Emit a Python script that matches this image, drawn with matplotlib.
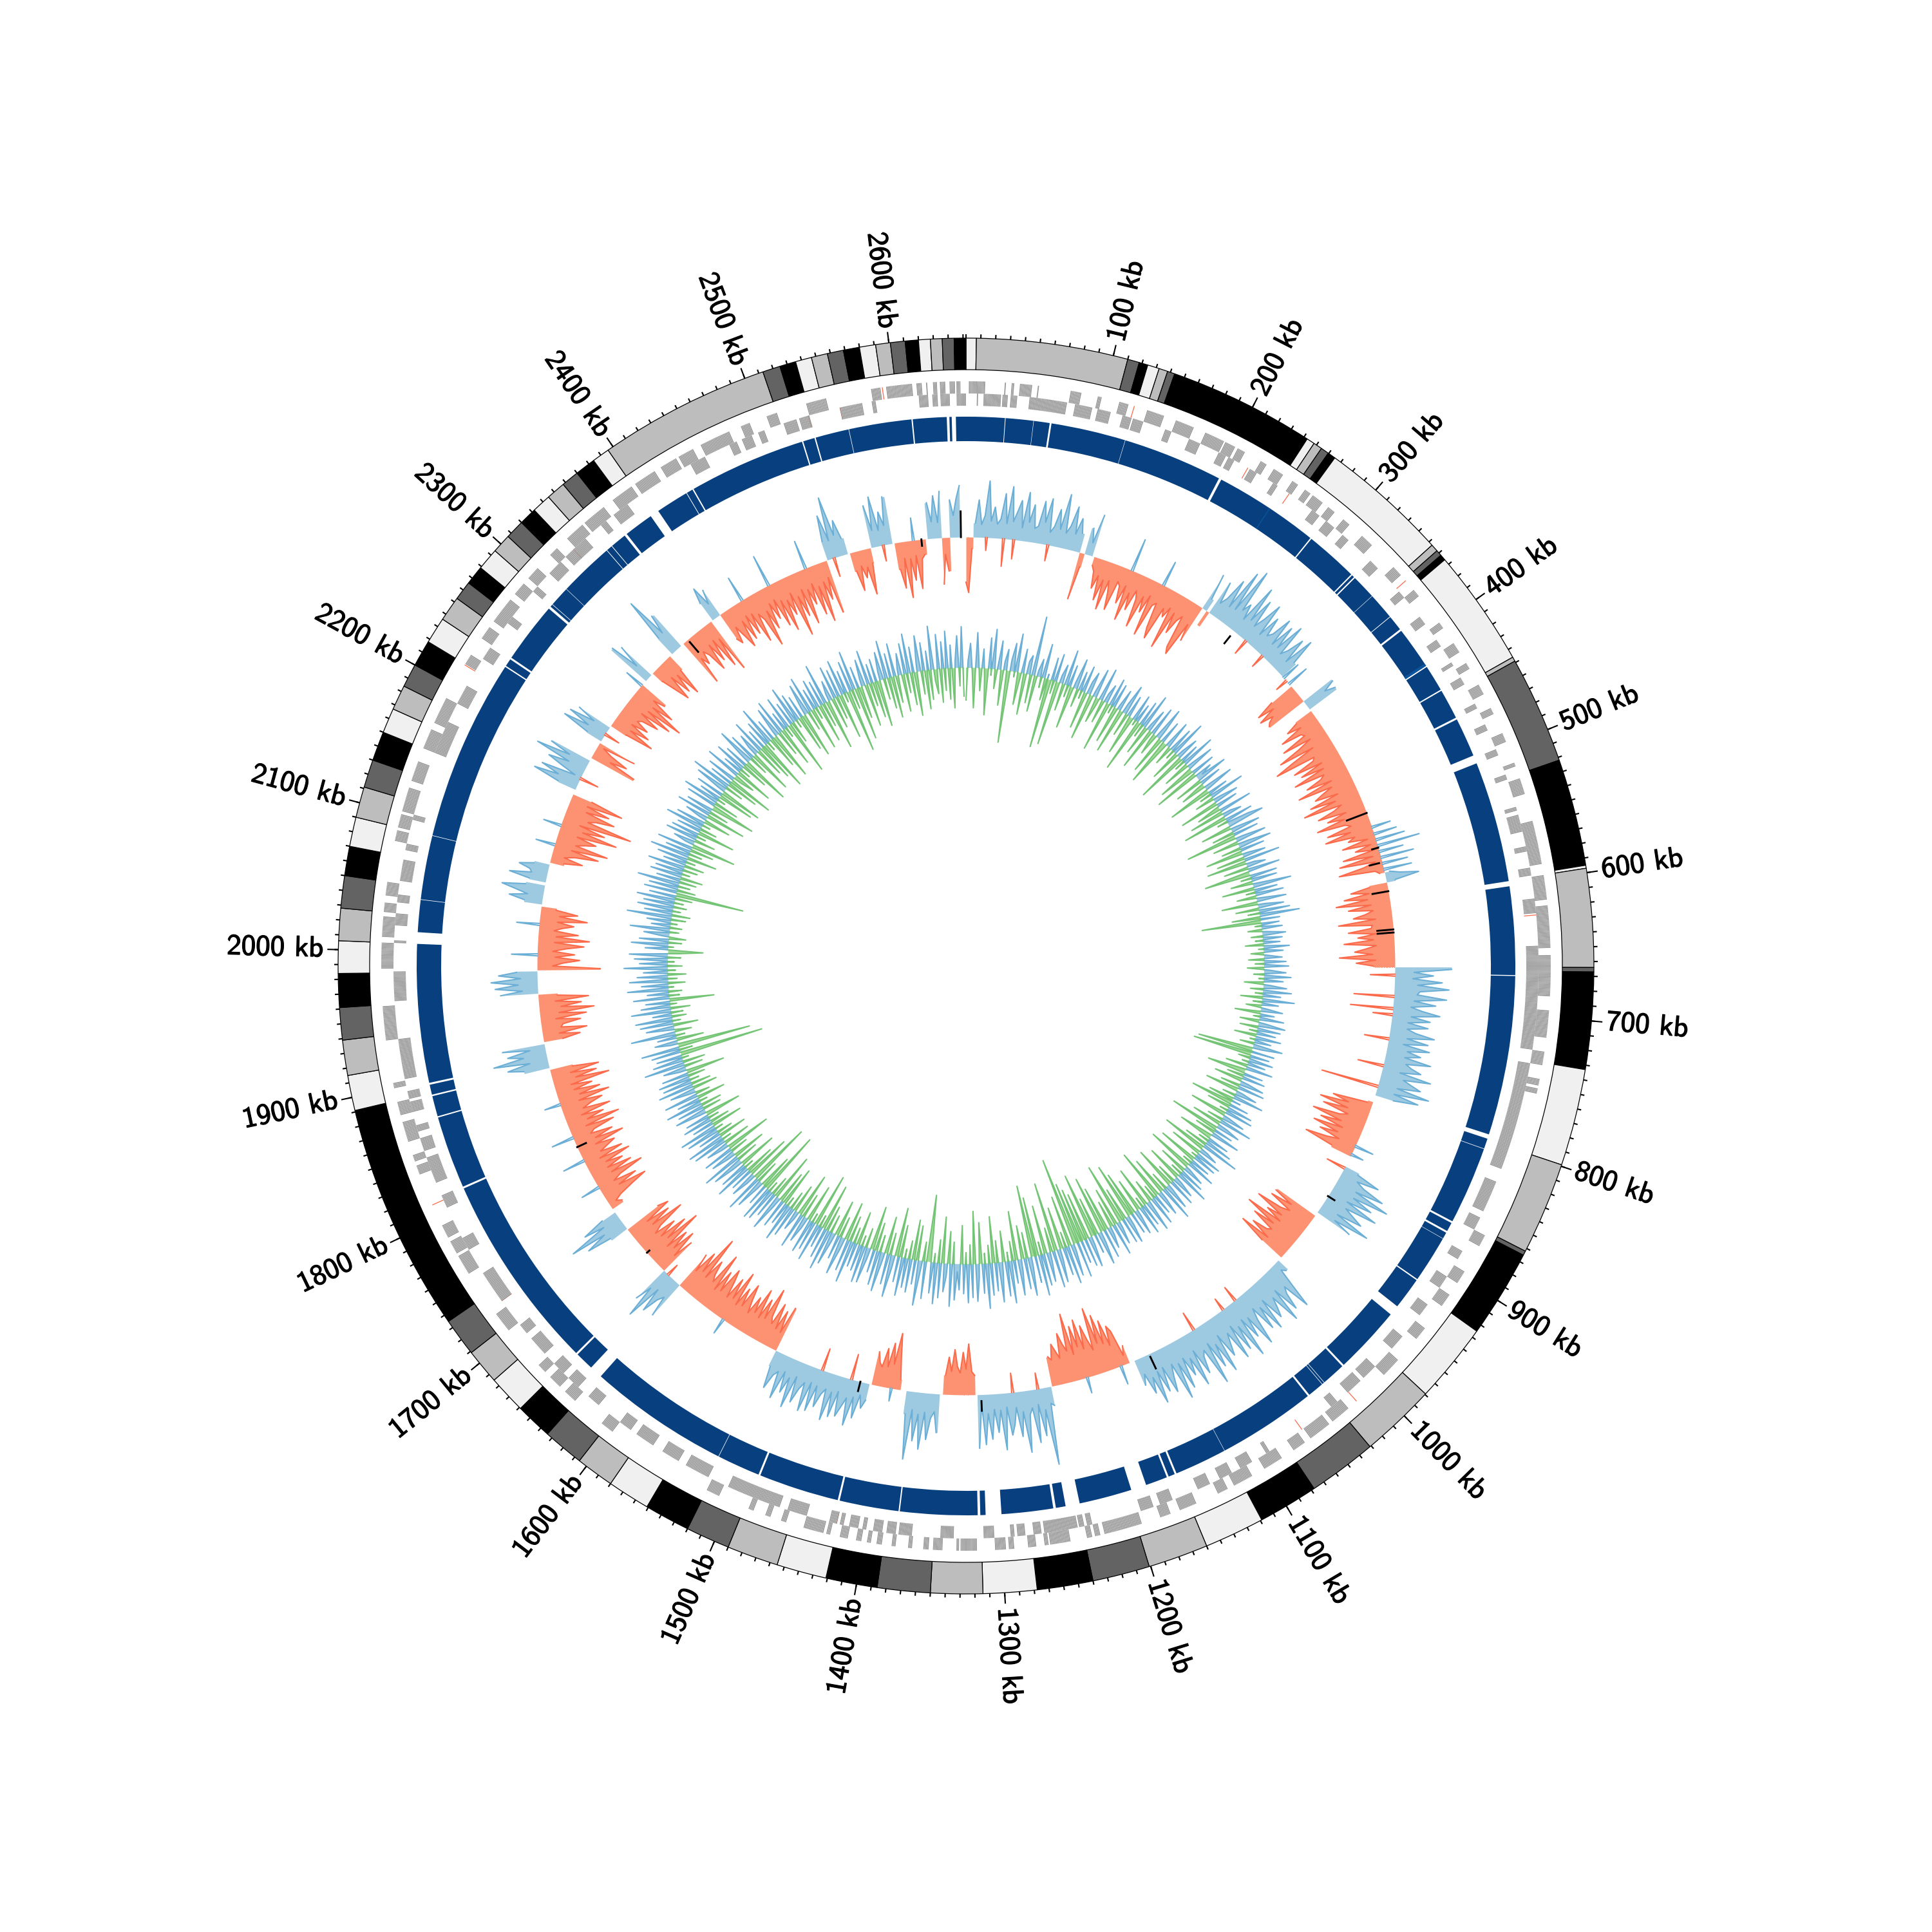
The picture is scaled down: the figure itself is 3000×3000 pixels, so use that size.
import numpy as np
import matplotlib
matplotlib.use("Agg")
import matplotlib.pyplot as plt
import matplotlib.patheffects as pe

# ============================================
# DATA (all positions in kb, heights in px from the baseline of the track)
# ============================================
genome_len = 2652
bin_kb = 3

# outer band: contig boundaries, the colours cycle clockwise
contig_edges = [0, 7, 110, 118, 124, 132, 138, 143, 242.5, 248, 254, 259.6, 265, 353, 358, 362, 366,
                446, 449, 522, 595, 597, 664, 667, 733, 799, 862, 865, 925, 979.5, 1031, 1078, 1119,
                1160, 1201, 1240, 1278, 1314.6, 1350, 1386, 1421, 1455, 1490, 1520, 1551, 1580, 1606,
                1634, 1659, 1685, 1709, 1735, 1891, 1915, 1939, 1961, 1984, 2006, 2028, 2050, 2070,
                2090, 2111, 2130, 2150, 2167, 2184, 2200, 2218, 2236, 2253, 2266, 2279, 2294, 2307,
                2320, 2332, 2345, 2358, 2370, 2384, 2396, 2513, 2525, 2536, 2547, 2558, 2569, 2580,
                2591, 2601, 2611, 2620, 2628, 2636, 2644, 2652]
contig_colors = ['#f0f0f0', '#bdbdbd', '#636363', '#000000']

major_ticks = list(range(100, 2601, 100))
minor_ticks = list(range(0, 2651, 10))

# gene blocks on each strand
gene_fwd = [(2,14),(28,29),(33,35),(39,48),(52,53),(76,84),(96,99),(112,119),(133,146),(155,169),(178,193),
            (194,202),(204,210),(223,228),(234,242),(250,255),(261,266),(268,277),(282,288),(296,302),(314,324),
            (346,354),(368,374),(398,403),(416,424),(433,438),(451,459),(470,475),(490,497),(513,516),(525,537),
            (557,589),(597,615),(619,650),(655,685),(695,715),(725,735),(745,750),(752,756),(865,874),(895,905),
            (915,925),(945,955),(975,990),(1025,1040),(1043,1060),(1065,1075),(1085,1100),(1110,1125),(1130,1138),
            (1155,1168),(1175,1183),(1197,1225),(1228,1232),(1234,1238),(1250,1265),(1266,1269),(1275,1281),
            (1291,1295),(1297,1305),(1318,1330),(1331,1333),(1343,1350),(1353,1357),(1365,1368),(1377,1380),
            (1387,1391),(1395,1398),(1402,1406),(1412,1418),(1425,1428),(1430,1445),(1458,1462),(1470,1474),
            (1483,1487),(1510,1520),(1600,1610),(1635,1645),(1650,1660),(1665,1672),(1705,1720),(1755,1770),
            (1772,1782),(1785,1795),(1835,1842),(1845,1850),(1860,1875),(1880,1890),(1900,1904),(1935,1960),
            (1987,2006),(2010,2025),(2028,2035),(2040,2050),(2080,2088),(2090,2100),(2102,2120),(2125,2140),
            (2150,2165),(2170,2190),(2218,2226),(2240,2250),(2255,2275),(2280,2290),(2295,2305),(2318,2325),
            (2335,2350),(2352,2370),(2378,2395),(2398,2415),(2420,2433),(2435,2447),(2453,2470),(2470,2476),
            (2485,2492),(2505,2513),(2535,2550),(2583,2590),(2594,2613),(2616,2620),(2623,2624),(2628,2631),
            (2633,2637),(2640,2644),(2645,2648)]
gene_rev = [(8,9),(13,26),(27,31),(33,38),(47,75),(81,94),(98,108),(117,124),(125,133),(150,155),(169,178),
            (193,199),(201,206),(219,225),(239,243),(274,281),(287,295),(303,309),(331,339),(362,368),(386,393),
            (407,413),(427,430),(440,446),(462,466),(479,484),(499,504),(519,523),(544,547),(550,563),(574,578),
            (590,596),(613,624),(648,665),(665,695),(695,725),(735,800),(800,816),(826,850),(855,865),(883,890),
            (905,915),(930,940),(960,972),(990,1002),(1005,1018),(1028,1034),(1090,1093),(1105,1115),(1122,1132),
            (1140,1150),(1170,1180),(1185,1195),(1232,1236),(1238,1242),(1243,1268),(1270,1276),(1282,1288),
            (1290,1293),(1305,1313),(1335,1345),(1366,1376),(1378,1385),(1388,1395),(1400,1403),(1406,1413),
            (1417,1420),(1422,1428),(1445,1460),(1466,1507),(1523,1542),(1548,1562),(1570,1585),(1590,1600),
            (1620,1630),(1640,1650),(1655,1665),(1675,1690),(1695,1703),(1725,1735),(1735,1750),(1770,1780),
            (1805,1815),(1825,1835),(1835,1845),(1850,1860),(1865,1870),(1880,1888),(1890,1896),(1905,1935),
            (1963,1985),(2006,2008),(2019,2028),(2036,2042),(2052,2068),(2075,2080),(2098,2102),(2150,2175),
            (2190,2205),(2228,2238),(2260,2266),(2290,2295),(2308,2320),(2325,2345),(2360,2365),(2372,2385),
            (2440,2452),(2472,2478),(2482,2490),(2495,2500),(2515,2525),(2527,2535),(2558,2575),(2582,2585),
            (2617,2624),(2627,2631),(2633,2640),(2645,2652)]
red_fwd = [123, 359, 1017, 1811, 2217, 2591]
red_rev = [217, 253, 625, 1061, 1422, 1725, 2333, 2534, 2558]

# white cuts in the dark blue ring
ring_gaps = [(30,30.5),(52,52.3),(64.6,66),(124,124.3),(202,204),(286,287),(328,329),(331,332),(351,351.3),
             (372,372.5),(384.5,386),(419,420),(440.5,441.5),(465,466.5),(497,503.5),(597.5,601.5),(670,670.7),
             (794.5,798),(806,806.4),(867,868.5),(875.5,877),(882,882.3),(919,920),(945,953),(1006,1007.5),
             (1026,1026.4),(1028,1028.4),(1041,1042.5),(1119,1119.3),(1160,1161.5),(1166.5,1168),(1185,1197),
             (1238,1249),(1256.6,1258.6),(1298.7,1310.9),(1315,1317),(1377,1378),(1424,1425.5),(1488,1489.5),
             (1523,1523.4),(1633,1643),(1657.5,1659),(1813,1814.5),(1871,1872),(1888,1889.2),(1897,1898.5),
             (2006,2015),(2040,2040.4),(2090,2090.4),(2232,2233),(2239,2240.5),(2288,2290),(2292,2292.4),
             (2308,2308.3),(2351,2351.5),(2356,2356.5),(2369,2371),(2394,2401),(2426.5,2427),(2432,2433),
             (2524,2525),(2534,2535),(2561,2561.4),(2610,2611),(2637.2,2639.2),(2641,2644.2)]
ring_light = [(247,247.7),(417,419)]

# sign of the skew track by stretch: 1 outward (blue), -1 inward (red)
skew_regions = [(0,7,-1),(7,113,1),(113,118,-1),(118,126,1),(128,246,-1),(246,251,1),(251,254,-1),(254,350,1),
                (363,382,-1),(382,392,1),(394,570,-1),(570,580,1),(580,664,-1),(664,792,1),(799,857,-1),(868,921,1),
                (925,978,-1),(982,1156,1),(1161,1241,-1),(1242,1315,1),(1317,1349,-1),(1352,1385,1),(1391,1420,-1),
                (1422,1520,1),(1520,1635,-1),(1635,1656,1),(1656,1710,-1),(1711,1731,1),(1735,1886,-1),(1888,1912,1),
                (1914,1961,-1),(1962,1984,1),(1985,2048,-1),(2050,2069,1),(2072,2090,1),(2092,2163,-1),(2168,2200,1),
                (2203,2220,-1),(2222,2238,1),(2240,2291,-1),(2296,2304,1),(2306,2330,-1),(2333,2345,1),(2348,2383,-1),
                (2385,2394,1),(2394,2512,-1),(2513,2534,1),(2536,2557,-1),(2558,2579,1),(2581,2612,-1),(2614,2628,1),
                (2628,2636,-1),(2636,2646,1)]

# skew height per 3 kb bin, ten bins (30 kb) to the row
skew_amp = [
    70,86,18,22,58,20,34,88,26,48,  22,30,70,24,82,28,44,62,20,76,  30,58,22,26,66,34,72,20,30,58,
    28,84,24,36,68,26,52,30,74,22,  42,20,66,14,22,48,26,64,30,76,  28,46,72,24,30,56,26,80,34,60,
    26,38,82,30,54,24,88,36,30,70,  86,32,44,26,92,30,62,38,28,80,  90,34,60,20,26,56,22,34,70,26,
    92,28,102,34,48,24,86,30,70,26,  44,74,22,58,28,36,68,24,62,26,  72,22,34,60,20,68,28,50,22,30,
    14,40,70,44,73,52,62,66,55,36,  52,22,30,50,28,66,34,30,72,26,  50,86,30,70,100,36,40,76,30,68,
    32,84,36,44,70,30,88,34,52,66,  30,78,38,92,32,46,74,30,62,36,  82,38,30,70,34,76,30,42,12,54,
    10,36,8,58,12,66,10,30,70,14,  8,24,52,14,28,58,30,70,34,84,  30,66,28,40,60,26,84,32,34,70,
    28,56,32,78,28,44,62,34,86,30,  60,34,88,30,60,28,74,36,85,40,  36,82,32,66,28,46,74,30,60,26,
    58,26,40,70,28,62,24,66,32,54,  30,72,34,44,60,28,78,36,50,66,  30,82,28,68,30,76,14,8,62,36,
    80,34,72,30,42,84,36,68,30,76,  34,62,28,48,80,34,70,12,6,8,  24,62,28,42,78,34,92,36,70,30,
    84,34,50,68,28,86,30,60,26,72,  40,74,36,50,90,42,66,38,96,44,  78,40,46,70,36,84,40,72,20,14,
    44,80,36,46,72,30,84,36,52,66,  28,78,34,70,28,46,86,34,66,30,  92,36,74,28,82,34,50,68,28,88,
    38,74,30,96,36,44,70,28,84,36,  62,30,78,34,90,30,48,72,28,66,  30,80,36,60,26,42,74,28,14,56,
    66,36,78,42,90,46,104,38,56,80,  44,92,50,84,40,106,48,60,78,40,  52,64,40,46,30,26,121,34,74,24,
    83,28,38,96,32,70,24,50,66,22,  88,26,60,24,70,30,78,14,83,30,  36,79,40,66,34,44,70,36,58,30,
    20,60,28,38,72,30,88,34,76,28,  106,36,62,12,16,50,87,38,70,32,  60,30,36,52,26,40,20,58,26,72,
    30,46,62,24,66,28,74,26,36,58,  26,68,24,72,28,40,64,24,76,30,  56,24,70,28,36,60,26,72,28,62,
    30,70,34,44,88,36,66,32,78,36,  60,30,50,74,34,62,30,84,36,68,  32,58,76,34,66,30,90,38,48,70,
    36,105,40,72,34,62,30,40,66,28,  85,34,60,28,72,36,66,30,95,40,  78,34,64,30,44,88,36,70,32,76,
    60,30,68,34,90,28,60,24,72,20,  12,24,48,74,30,62,26,40,80,30,  66,28,56,30,72,24,64,30,44,58,
    28,76,32,62,28,36,70,26,82,32,  60,26,74,32,46,66,30,80,34,68,  28,58,26,88,36,70,30,76,36,92,
    40,64,28,84,36,60,24,66,30,58,  26,70,30,34,62,24,72,30,85,34,  66,26,78,30,58,24,66,30,72,26,
    60,32,98,24,40,66,28,58,24,44,  72,26,80,28,62,24,36,54,28,74,  30,58,24,66,28,52,24,44,66,30,
    70,26,58,24,28,46,24,66,22,50,  20,36,72,28,84,32,46,62,30,92,  36,70,28,110,38,50,78,30,66,28,
    84,32,58,30,72,34,64,10,36,60,  28,85,32,66,26,74,30,56,26,10,  62,26,70,30,66,26,56,28,72,30,
    60,26,52,30,36,62,28,78,34,92,  36,70,30,48,86,32,72,26,62,20,  44,66,26,60,30,70,28,86,32,100,
    34,64,26,78,36,50,30,40,70,28,  60,26,76,30,88,32,56,24,46,56,  30,50,70,28,62,24,58,26,76,32,
    44,90,34,66,26,54,24,70,30,82,  34,60,26,98,36,70,28,86,32,58,  26,78,34,92,30,60,26,84,30,70,
    28,96,34,56,26,80,30,62,24,44,  28,72,24,66,26,78,24,52,30,74,  24,42,72,26,88,28,62,24,76,30,
    24,42,56,26,66,24,72,26,52,58,  34,60,80,30]

# single spikes of the other colour inside a stretch, and the short stretch with no track
skew_flips = [(20,-20),(37,-43),(47,-30),(81,-25),(168,52),(202,40),(300,-25),(322,-22),(352,30),(356,-20),(360,35),
              (524,30),(531,36),(537,46),(543,67),(549,38),(555,52),(561,40),(567,44),(672,-38),(693,-62),(705,-66),
              (711,-30),(735,-38),(762,-40),(783,-90),(846,30),(855,20),(870,-30),(1040,-25),(1055,-20),(1090,-30),
              (1170,30),(1205,25),(1255,-25),(1280,-30),(1400,20),(1440,-40),(1470,-35),(1580,25),(1650,-20),
              (1760,30),(1790,35),(1815,35),(1850,25),(2000,40),(2030,35),(2110,30),(2130,28),(2180,-30),(2230,-25),
              (2290,30),(2420,40),(2450,50),(2490,45),(2520,-30),(2570,-25),(2600,35)]
skew_black = [(285,-24,-10),(509,-33,0),(545,-10,0),(560,-20,-5),(589,-25,0),(627,-25,0),(630,-25,0),(902,0,12),
              (1140,5,25),(1311,10,25),(1431,0,15),(1680,-5,0),(1805,-15,0),(2354,-25,-5),(2608,-10,0),(2647,0,40)]

# inner track per 3 kb bin, ten bins (30 kb) to the row
gc_vals = [
    -50,12,38,-6,-62,55,8,-35,30,-14,  -72,48,-10,62,-30,6,45,-55,14,33,  -112,18,44,-8,60,-50,-12,38,-64,20,
    30,-44,93,-56,10,28,-16,54,-34,8,  -108,36,-20,44,-100,12,30,-42,56,-18,  34,-66,10,48,-28,30,-12,42,-58,20,
    36,-72,8,46,-40,-10,52,-36,14,30,  -78,44,-12,38,-58,6,34,-70,16,48,  -36,34,-14,-62,42,-8,30,-84,40,-20,
    56,-46,10,36,-66,46,-12,-34,52,14,  -60,36,-18,-74,44,8,-30,40,-14,58,  -48,12,36,-80,30,-16,54,-42,8,44,
    -58,-14,38,-72,28,10,50,-44,34,-12,  -40,48,8,-68,32,-18,56,-30,12,40,  -62,34,-10,-38,52,-54,14,30,-70,44,
    -16,36,58,-48,10,46,-34,40,-80,12,  48,-40,18,52,-30,38,-58,8,36,-44,  56,-62,14,30,-38,50,-20,-72,42,-16,
    40,-34,10,60,-50,36,-14,44,-30,8,  46,-56,12,40,-36,48,-18,62,-44,30,  -92,28,-10,32,-22,8,36,-18,30,-12,
    26,-28,40,-8,30,-20,6,28,-24,34,  -14,38,-26,10,34,-16,42,-8,30,-30,  10,36,-20,44,-12,28,-34,50,-14,26,
    -24,8,34,-40,22,-10,38,-30,12,42,  -28,36,-12,30,-34,40,-8,26,-22,46,  14,-86,36,-92,30,-18,38,-10,28,-34,
    42,-16,-60,30,-26,36,-44,12,38,-30,  42,-52,10,34,-20,48,-40,14,-66,30,  -36,40,-12,44,-58,10,36,-24,52,-46,
    16,38,-78,30,-32,46,-10,-54,34,-16,  44,-36,60,-70,12,30,-50,42,-8,38,  -62,32,-14,46,-72,8,34,-44,40,-18,
    54,-56,12,36,-30,44,-66,10,42,-28,  56,-60,14,40,-80,32,-22,46,-36,10,  50,-64,36,-16,46,-52,12,40,-70,34,
    -88,16,44,-52,40,-96,10,36,-60,50,  -42,14,34,-70,46,-90,18,52,-60,30,  -102,14,48,-74,44,-84,36,-96,56,-138,
    12,50,-80,60,-24,44,-66,18,52,-108,  58,-38,14,46,-76,50,-20,64,-92,42,  -112,16,60,-40,48,-52,20,56,-76,36,
    -30,66,-14,54,-48,18,62,-34,44,-72,  50,-28,70,-16,46,-64,22,58,-82,52,  -30,60,-18,46,-60,40,12,56,-34,66,
    -50,20,44,-72,54,-36,64,-14,48,-44,  -104,58,-30,18,70,-54,38,-62,52,-28,  46,-14,60,-50,40,-76,20,66,-34,48,
    -58,14,62,-26,54,-44,36,-68,18,56,  -30,58,-16,42,-52,38,-24,66,-40,50,  -60,20,60,-32,38,-56,14,52,-28,64,
    -40,48,-72,34,-18,60,-83,46,-14,54,  -58,18,42,-38,56,-68,12,32,-44,48,  -28,60,-14,36,-62,46,-50,18,58,-74,
    40,-30,52,-16,56,-100,34,-54,12,48,  -36,60,-100,16,42,-70,36,-46,58,-14,  44,-60,18,50,-34,62,-52,14,40,-28,
    48,-72,12,36,-42,54,-14,60,-44,36,  -24,52,-12,60,-48,34,-30,46,-16,38,  -56,10,50,-28,42,-32,58,-12,36,-44,
    54,-22,12,40,-38,56,-30,46,-14,50,  -26,42,-60,12,36,-28,64,-34,48,-10,  40,-131,46,-20,60,-114,12,36,-42,30,
    -14,70,-26,8,44,-38,52,-12,58,-22,  30,-18,62,-30,46,-10,38,-69,56,-16,  34,-20,64,-8,42,-26,60,-14,48,-28,
    38,-12,68,-22,44,-10,52,-20,60,-16,  -54,36,-8,58,-20,46,-26,12,40,-14,  62,-18,30,-10,38,-22,70,-28,44,-12,
    56,-20,48,-14,60,-26,42,-106,52,-28,  46,-18,66,-26,38,-34,50,-12,44,-22,  58,-30,36,-14,48,-46,62,-20,40,-36,
    56,-69,14,34,-32,50,-14,44,-58,38,  -26,60,-12,46,-42,12,36,-62,54,-30,  42,-16,-70,48,-38,58,-12,34,-56,44,
    -66,12,52,-28,64,-50,36,-72,46,-14,  -34,56,-60,30,-16,50,-42,38,-76,12,  60,-30,44,-68,16,36,-46,54,-58,32,
    -80,42,-14,62,-50,34,-74,10,48,-40,  56,-62,30,-16,52,-84,38,-34,60,-12,  44,-56,36,-70,14,50,-30,58,-66,34,
    -18,46,-60,40,-38,64,-78,12,32,-48,  52,-36,44,-70,56,-14,36,-97,48,-30,  62,-82,34,-50,12,42,-66,54,-36,30,
    -56,36,-72,14,44,-32,60,-48,38,-64,  52,-42,12,34,-58,48,-30,62,-50,40,  -68,14,56,-36,44,-60,30,-46,68,-18,
    -38,54,-52,42,-34,58,-48,36,-62,12,  50,-28,64,-44]

# ============================================
# STYLE AND RADII (1 radial unit = 1 pixel of the output)
# ============================================
R_BAND = (926, 975)
R_GENE_FWD = (889, 908)
R_GENE_REV = (870, 889)
R_RING = (815, 853)
R_SKEW = 666
R_GC = 463

BLUE_LINE, BLUE_FILL = '#6baed6', '#9ecae1'
RED_LINE, RED_FILL = '#fb6a4a', '#fc9272'
GREEN_LINE, GREEN_FILL = '#74c476', '#a1d99b'
GENE_GRAY = '#989898'
RING_BLUE = '#08407f'
LW = 0.5


def ang(kb):
    # kb to radians clockwise from the top
    return np.radians(np.asarray(kb, dtype=float) * 360.0 / genome_len)


def arc(ax, start, end, radii, color, **kw):
    ax.bar(ang((start + end) / 2), radii[1] - radii[0], width=ang(end - start), bottom=radii[0],
           color=color, align='center', **kw)


def gene_strip(ax, runs, radii):
    # one thin radial stroke per kb, this gives the striped look of packed genes
    kbs = np.concatenate([np.arange(start, end, 1.0) + 0.5 for start, end in runs])
    ax.vlines(ang(kbs), radii[0], radii[1], color=GENE_GRAY, lw=0.42)


fig = plt.figure(figsize=(10, 10), dpi=300)
ax = fig.add_axes([0, 0, 1, 1], projection='polar')
ax.set_theta_zero_location('N')
ax.set_theta_direction(-1)
ax.set_rlim(0, 1500)
ax.axis('off')

# ============================================
# OUTER BAND, TICKS, LABELS
# ============================================
for i in range(len(contig_edges) - 1):
    arc(ax, contig_edges[i], contig_edges[i + 1], R_BAND, contig_colors[i % 4],
        edgecolor='black', linewidth=0.3)

ax.vlines(ang(minor_ticks), R_BAND[1], R_BAND[1] + 6, color='black', lw=LW)
ax.vlines(ang(major_ticks), R_BAND[1], R_BAND[1] + 17, color='black', lw=LW)
for kb in major_ticks:
    deg = kb * 360.0 / genome_len
    if deg < 180:
        rot, ha = 90 - deg, 'left'
    else:
        rot, ha = 270 - deg, 'right'
    ax.text(ang(kb), R_BAND[1] + 23, f'{kb} kb', rotation=rot, rotation_mode='anchor',
            ha=ha, va='center', fontsize=10.8, family='cmss10',
            path_effects=[pe.withStroke(linewidth=0.3, foreground='black')])

# ============================================
# GENES
# ============================================
gene_strip(ax, gene_fwd, R_GENE_FWD)
gene_strip(ax, gene_rev, R_GENE_REV)
for kb in red_fwd:
    arc(ax, kb, kb + 0.6, R_GENE_FWD, RED_LINE, linewidth=0)
for kb in red_rev:
    arc(ax, kb, kb + 0.6, R_GENE_REV, RED_LINE, linewidth=0)

# ============================================
# BLUE RING
# ============================================
seg_start = 0
for gap_start, gap_end in ring_gaps:
    arc(ax, seg_start, gap_start, R_RING, RING_BLUE, linewidth=0)
    seg_start = gap_end
arc(ax, seg_start, genome_len, R_RING, RING_BLUE, linewidth=0)
for start, end in ring_light:
    arc(ax, start, end, R_RING, '#0b559f', linewidth=0)

# ============================================
# SKEW TRACK
# ============================================
skew_kb = np.arange(len(skew_amp)) * bin_kb
skew_amp = np.array(skew_amp, dtype=float)
for start, end, side in skew_regions:
    mask = (skew_kb >= start) & (skew_kb <= end)
    if not mask.any():
        continue
    kb = np.r_[start, skew_kb[mask], end]
    amp = np.r_[skew_amp[mask][0], skew_amp[mask], skew_amp[mask][-1]]
    line, fill = (BLUE_LINE, BLUE_FILL) if side > 0 else (RED_LINE, RED_FILL)
    ax.fill_between(ang(kb), R_SKEW, R_SKEW + side * amp, color=fill, linewidth=0)
    ax.plot(ang(kb[1:-1]), R_SKEW + side * amp[1:-1], color=line, lw=LW)

for kb, val in skew_flips:
    ax.plot(ang([kb - 1, kb, kb + 1]), [R_SKEW, R_SKEW + val, R_SKEW],
            color=BLUE_LINE if val > 0 else RED_LINE, lw=LW)
for kb, lo, hi in skew_black:
    ax.plot(ang([kb, kb]), [R_SKEW + lo, R_SKEW + hi], color='black', lw=0.7)

# ============================================
# INNER TRACK: split at each zero crossing so the two colours meet on the baseline
# ============================================
gc_kb = np.arange(len(gc_vals)) * bin_kb
gc_vals = np.array(gc_vals, dtype=float)
xs, ys = [gc_kb[0]], [gc_vals[0]]
for i in range(1, len(gc_vals)):
    a, b = gc_vals[i - 1], gc_vals[i]
    if a * b < 0:
        xs.append(gc_kb[i - 1] + bin_kb * a / (a - b))
        ys.append(0.0)
    xs.append(gc_kb[i])
    ys.append(b)
xs, ys = np.array(xs), np.array(ys)

ax.fill_between(ang(xs), R_GC, R_GC + ys, where=ys >= 0, color=BLUE_FILL, linewidth=0)
ax.fill_between(ang(xs), R_GC, R_GC + ys, where=ys <= 0, color=GREEN_FILL, linewidth=0)
ax.plot(ang(xs), np.ma.masked_where(ys < 0, R_GC + ys), color=BLUE_LINE, lw=LW)
ax.plot(ang(xs), np.ma.masked_where(ys > 0, R_GC + ys), color=GREEN_LINE, lw=LW)

ax.set_rlim(0, 1500)
fig.savefig('out.png', dpi=300)
plt.close(fig)
